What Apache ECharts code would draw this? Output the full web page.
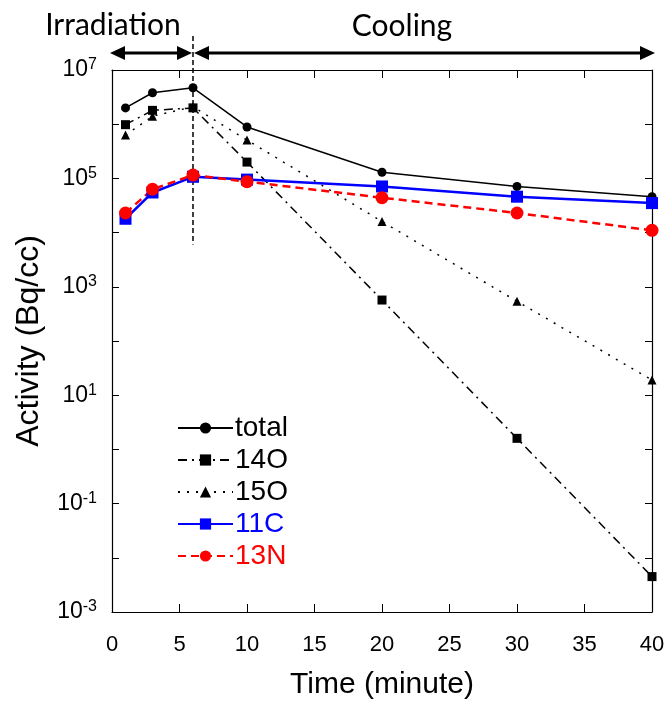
<!DOCTYPE html>
<html>
<head>
<meta charset="utf-8">
<script src="https://cdn.jsdelivr.net/npm/echarts@6/dist/echarts.min.js"></script>
<style>
  html, body { margin: 0; padding: 0; background: #fff; }
  #chart { width: 672px; height: 702px; }
</style>
</head>
<body>
<div id="chart"></div>
<script>
// time points (minute)
const times = [1, 3, 6, 10, 20, 30, 40]
// activity (Bq/cc)
const total = [2.0e6, 3.8e6, 4.7e6, 8.9e5, 1.3e5, 7.1e4, 4.6e4]
const o14 = [9.8e5, 1.8e6, 2.0e6, 2.0e5, 5.7e2, 1.6, 4.5e-3]
const o15 = [6.3e5, 1.4e6, 2.1e6, 5.1e5, 1.6e4, 5.4e2, 19]
const c11 = [1.8e4, 5.5e4, 1.07e5, 9.5e4, 7.1e4, 4.6e4, 3.5e4]
const n13 = [2.3e4, 6.3e4, 1.15e5, 8.7e4, 4.4e4, 2.3e4, 1.1e4]
const xTicks = { min: 0, max: 40, step: 5 }
const yRange = { min: 1e-3, max: 1e7 }
const endOfIrradiation = 6

const FONT = 'Liberation Sans, Arial, sans-serif'
const pair = arr => arr.map((v, i) => [times[i], v])

const chart = echarts.init(document.getElementById('chart'))

const supLabel = v => {
  const e = Math.round(Math.log10(v))
  return e % 2 !== 0 ? '{b|10}{s|' + e + '}' : ''
}

const boxAxis = {
  axisLine: { onZero: false, lineStyle: { color: '#000', width: 1.2 } },
  splitLine: { show: false }
}

const option = {
  animation: false,
  backgroundColor: '#fff',
  grid: { left: 112, right: 20, top: 70, bottom: 90, outerBoundsMode: 'none' },
  legend: {
    orient: 'vertical',
    left: 172,
    top: 409,
    itemWidth: 55,
    itemHeight: 14,
    itemGap: 4,
    textStyle: { fontFamily: FONT, fontSize: 28, color: '#000', padding: [0, 0, 0, -3] },
    data: [
      { name: 'total', textStyle: { color: '#000' } },
      { name: '14O', textStyle: { color: '#000' } },
      { name: '15O', textStyle: { color: '#000' } },
      { name: '11C', textStyle: { color: '#0000ff' } },
      { name: '13N', textStyle: { color: '#ff0000' } }
    ]
  },
  xAxis: [
    {
      ...boxAxis,
      type: 'value',
      min: xTicks.min,
      max: xTicks.max,
      interval: xTicks.step,
      name: 'Time (minute)',
      nameLocation: 'middle',
      nameGap: 58,
      nameTextStyle: { fontFamily: FONT, fontSize: 30, color: '#000' },
      axisTick: { inside: true, length: 8, lineStyle: { color: '#000' } },
      axisLabel: { fontFamily: FONT, fontSize: 22, color: '#000', margin: 22 }
    },
    {
      ...boxAxis,
      type: 'value',
      position: 'top',
      min: xTicks.min,
      max: xTicks.max,
      interval: xTicks.step,
      axisTick: { inside: true, length: 8, lineStyle: { color: '#000' } },
      axisLabel: { show: false }
    }
  ],
  yAxis: [
    {
      ...boxAxis,
      type: 'log',
      logBase: 10,
      min: yRange.min,
      max: yRange.max,
      interval: 1,
      name: 'Activity (Bq/cc)',
      nameLocation: 'middle',
      nameGap: 67,
      nameTextStyle: { fontFamily: FONT, fontSize: 32, color: '#000' },
      axisTick: { inside: true, length: 7, lineStyle: { color: '#000' } },
      axisLabel: {
        margin: 15,
        formatter: supLabel,
        rich: {
          b: { fontFamily: FONT, fontSize: 23, color: '#000' },
          s: { fontFamily: FONT, fontSize: 16, color: '#000', padding: [0, 0, 10, 0] }
        }
      }
    },
    {
      ...boxAxis,
      type: 'log',
      logBase: 10,
      position: 'right',
      min: yRange.min,
      max: yRange.max,
      interval: 1,
      axisTick: { inside: true, length: 7, lineStyle: { color: '#000' } },
      axisLabel: { show: false }
    }
  ],
  series: [
    {
      name: 'total',
      type: 'line',
      data: pair(total),
      symbol: 'circle',
      symbolSize: 9,
      itemStyle: { color: '#000' },
      lineStyle: { color: '#000', width: 1.5 }
    },
    {
      name: '14O',
      type: 'line',
      data: pair(o14),
      symbol: 'rect',
      symbolSize: 9,
      itemStyle: { color: '#000' },
      lineStyle: { color: '#000', width: 1.5, type: [9, 5, 2, 5] }
    },
    {
      name: '15O',
      type: 'line',
      data: pair(o15),
      symbol: 'triangle',
      symbolSize: 9,
      itemStyle: { color: '#000' },
      lineStyle: { color: '#000', width: 1.5, type: [2, 7] }
    },
    {
      name: '11C',
      type: 'line',
      data: pair(c11),
      symbol: 'rect',
      symbolSize: 12,
      itemStyle: { color: '#0000ff' },
      lineStyle: { color: '#0000ff', width: 2.5 }
    },
    {
      name: '13N',
      type: 'line',
      data: pair(n13),
      symbol: 'circle',
      symbolSize: 13,
      itemStyle: { color: '#ff0000' },
      lineStyle: { color: '#ff0000', width: 2.5, type: [8, 5] }
    }
  ]
}

chart.setOption(option)

// phase annotations above the plot
const toPx = (x, y) => chart.convertToPixel({ xAxisIndex: 0, yAxisIndex: 0 }, [x, y])
const x0 = toPx(xTicks.min, yRange.max)[0]
const x6 = toPx(endOfIrradiation, yRange.max)[0]
const x40 = toPx(xTicks.max, yRange.max)[0]
const lineBottom = toPx(endOfIrradiation, 6e3)[1]
const arrowY = 53
const head = 15
const half = 7

const arrow = (a, b) => [
  { type: 'line', shape: { x1: a + head - 2, y1: arrowY, x2: b - head + 2, y2: arrowY }, style: { stroke: '#000', lineWidth: 3 } },
  { type: 'polygon', shape: { points: [[a, arrowY], [a + head, arrowY - half], [a + head, arrowY + half]] }, style: { fill: '#000' } },
  { type: 'polygon', shape: { points: [[b, arrowY], [b - head, arrowY - half], [b - head, arrowY + half]] }, style: { fill: '#000' } }
]

chart.setOption({
  graphic: [
    ...arrow(x0 - 2, x6 - 1),
    ...arrow(x6 + 1, x40 + 3),
    {
      type: 'line',
      shape: { x1: x6, y1: 36, x2: x6, y2: lineBottom },
      style: { stroke: '#000', lineWidth: 1.5, lineDash: [5, 3] }
    },
    {
      type: 'text',
      x: 113, y: 25,
      style: { text: 'Irradiation', font: '30px Lato, sans-serif', fill: '#000', align: 'center', verticalAlign: 'middle' }
    },
    {
      type: 'text',
      x: 402, y: 26,
      style: { text: 'Cooling', font: '30px Lato, sans-serif', fill: '#000', align: 'center', verticalAlign: 'middle' }
    }
  ]
})
</script>
</body>
</html>
